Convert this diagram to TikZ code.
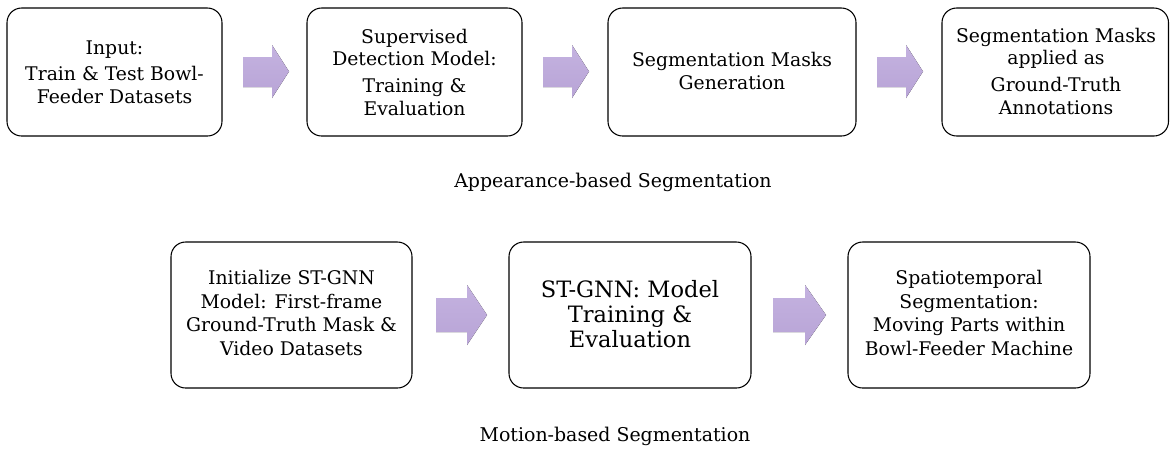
\documentclass[tikz,border=0pt]{standalone}
\usepackage{fontspec}
\setmainfont{DejaVu Serif}
\definecolor{arrowfill}{RGB}{184,164,214}
\definecolor{arrowtop}{RGB}{196,178,224}
\tikzset{
  px/.style={x=0.75pt,y=-0.75pt},
  box/.style={draw=black,line width=0.8pt,rounded corners=11pt,fill=white},
  txt/.style={align=center,font=\fontsize{14.1}{17}\selectfont,inner sep=0pt},
  bigtxt/.style={align=center,font=\fontsize{16.9}{18.8}\selectfont,inner sep=0pt},
  captxt/.style={font=\fontsize{14.2}{16}\selectfont,inner sep=0pt},
  flow/.style={top color=arrowtop,bottom color=arrowfill,draw=none},
}
\begin{document}
\begin{tikzpicture}[px]
\useasboundingbox (0,0) rectangle (1170,451);
% top row boxes
\draw[box] (7,8) rectangle (222,136);
\draw[box] (307,8) rectangle (522,136);
\draw[box] (608,8) rectangle (856,136);
\draw[box] (942,8) rectangle (1168.5,136);
\node[txt] (t1) at (114.5,72) {Input:\\[3pt] Train \& Test Bowl-\\Feeder Datasets};
\node[txt] (t2) at (414.5,72) {Supervised\\Detection Model:\\[3pt] Training \&\\Evaluation};
\node[txt] (t3) at (732,71) {Segmentation Masks\\Generation};
\node[txt] (t4) at (1056,71) {Segmentation Masks\\applied as\\[3pt] Ground-Truth\\Annotations};
% bottom row boxes
\draw[box] (171,242) rectangle (412,388);
\draw[box] (509,242) rectangle (751,388);
\draw[box] (848,242) rectangle (1090,388);
\node[txt,font=\fontsize{14.1}{17.6}\selectfont] (t5) at (291.5,313) {Initialize ST-GNN\\Model: First-frame\\Ground-Truth Mask \&\\Video Datasets};
\node[bigtxt] (t6) at (630,314) {ST-GNN: Model\\Training \&\\Evaluation};
\node[txt,font=\fontsize{14.1}{17.6}\selectfont] (t7) at (969,313) {Spatiotemporal\\Segmentation:\\Moving Parts within\\Bowl-Feeder Machine};
% arrows
\fill[flow] (243,57) -- (272,57) -- (272,45) -- (289,71.5) -- (272,98) -- (272,87) -- (243,87) -- cycle;
\fill[flow] (543,57) -- (572,57) -- (572,45) -- (589,71.5) -- (572,98) -- (572,87) -- (543,87) -- cycle;
\fill[flow] (877,57) -- (906,57) -- (906,45) -- (923,71.5) -- (906,98) -- (906,87) -- (877,87) -- cycle;
\fill[flow] (436,298) -- (467,298) -- (467,285) -- (487,315) -- (467,345) -- (467,332) -- (436,332) -- cycle;
\fill[flow] (773,298) -- (805,298) -- (805,285) -- (826,315) -- (805,345) -- (805,332) -- (773,332) -- cycle;
% captions
\node[captxt] (c1) at (613,182) {Appearance-based Segmentation};
\node[captxt] (c2) at (615,436) {Motion-based Segmentation};
\end{tikzpicture}
\end{document}
